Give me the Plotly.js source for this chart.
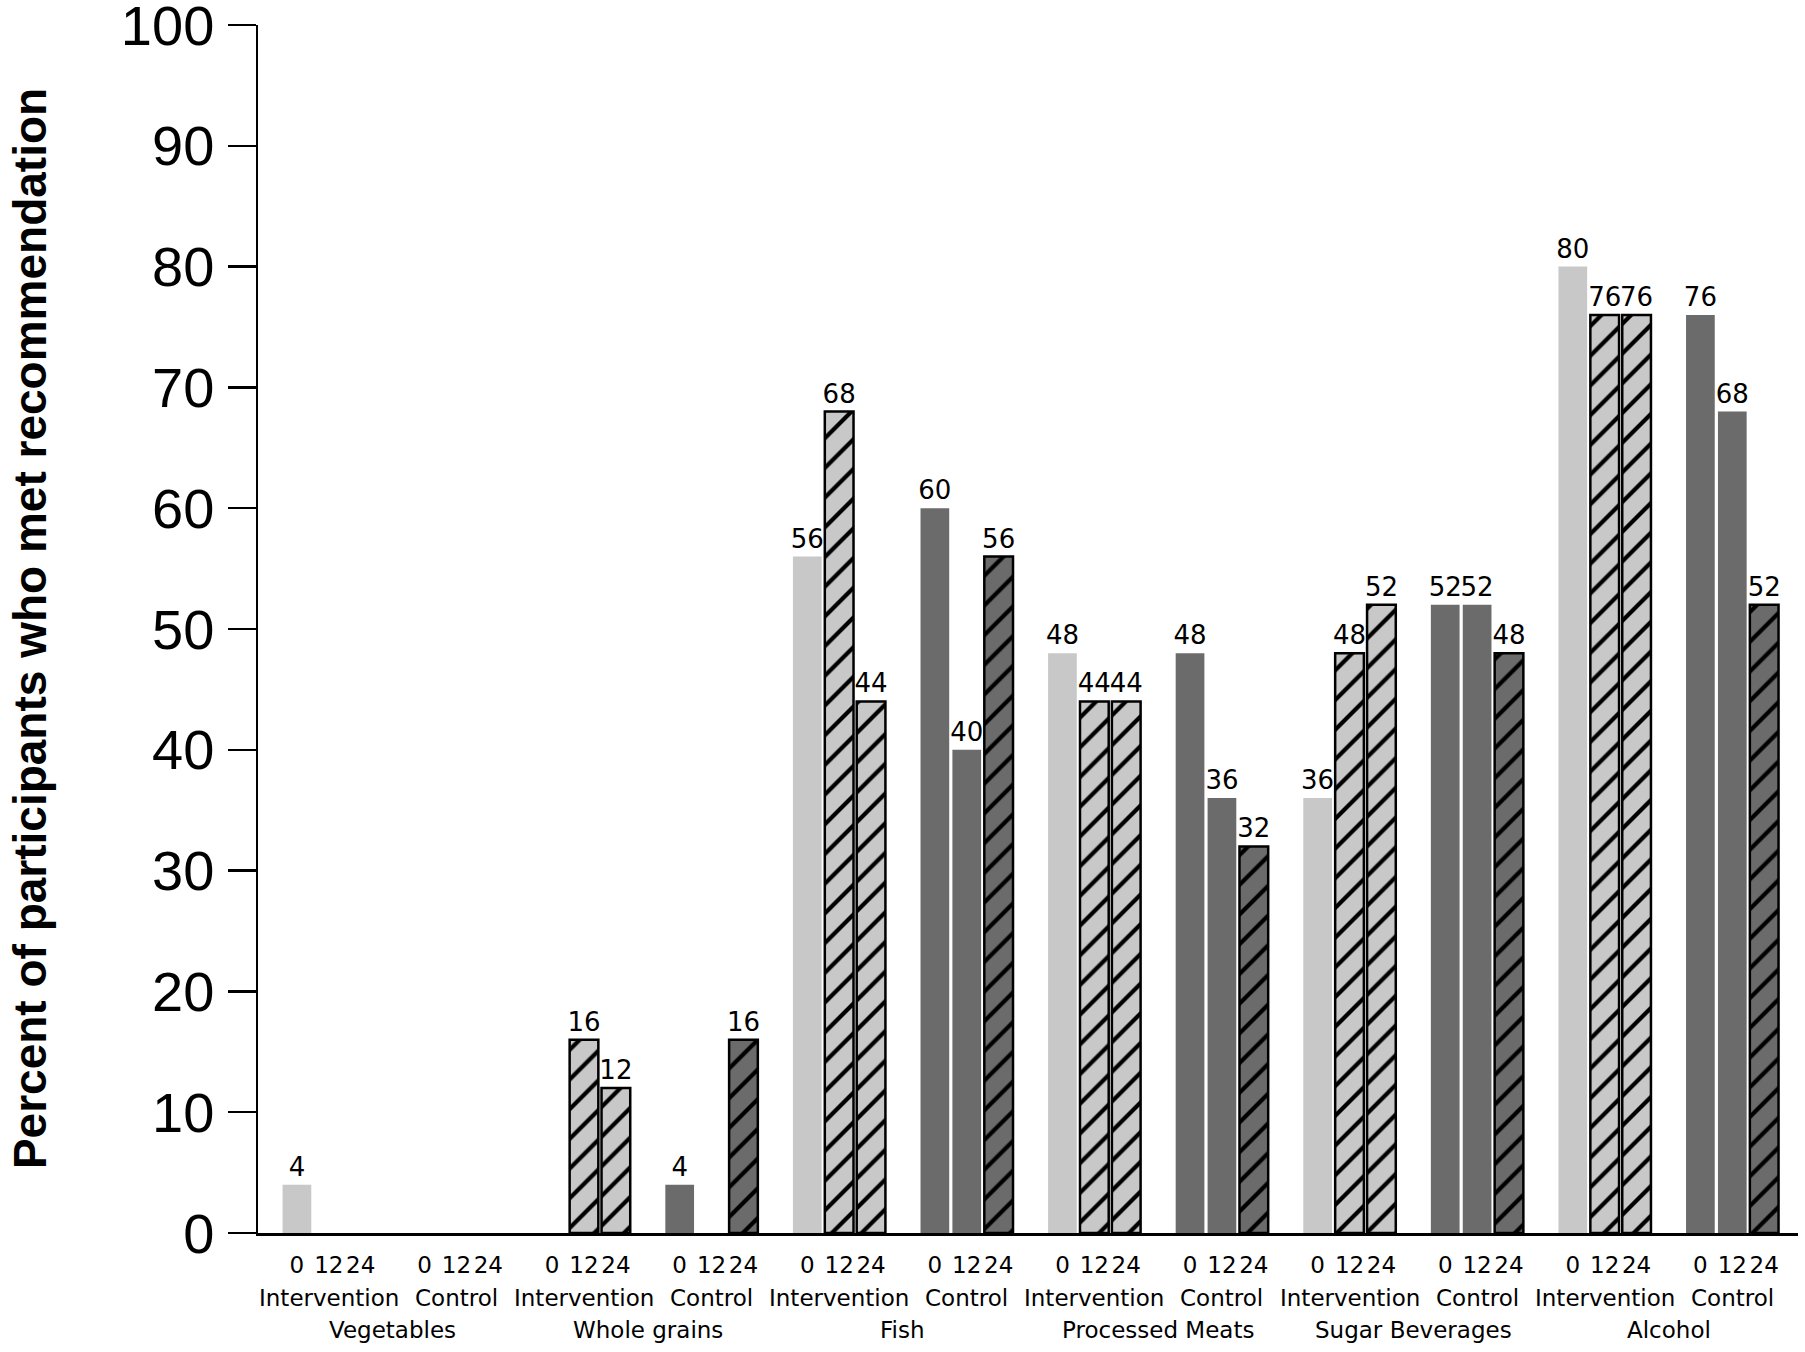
<!DOCTYPE html>
<html>
<head>
<meta charset="utf-8">
<script src="https://cdn.plot.ly/plotly-3.0.1.min.js"></script>
<style>html,body{margin:0;padding:0;background:#fff;}#chart{width:1805px;height:1352px;}</style>
</head>
<body>
<div id="chart"></div>
<script>
const categories = ['Vegetables', 'Whole grains', 'Fish', 'Processed Meats', 'Sugar Beverages', 'Alcohol'];
const groups = ['Intervention', 'Control'];
const timepoints = ['0', '12', '24'];
const intervention0  = [4, 0, 56, 48, 36, 80];
const intervention12 = [0, 16, 68, 44, 48, 76];
const intervention24 = [0, 12, 44, 44, 52, 76];
const control0  = [0, 4, 60, 48, 52, 76];
const control12 = [0, 0, 40, 36, 52, 68];
const control24 = [0, 16, 56, 32, 48, 52];
const yTitle = 'Percent of participants who met recommendation';

const LIGHT = '#c8c8c8', DARK = '#6b6b6b';
const SLOTS_PER_CAT = 8, SLOTS_PER_GROUP = 4;
const pos = (ci, gi, ti) => ci * SLOTS_PER_CAT + gi * SLOTS_PER_GROUP + ti;

const series = [
  {g: 0, t: 0, v: intervention0,  color: LIGHT, hatch: false},
  {g: 0, t: 1, v: intervention12, color: LIGHT, hatch: true},
  {g: 0, t: 2, v: intervention24, color: LIGHT, hatch: true},
  {g: 1, t: 0, v: control0,  color: DARK, hatch: false},
  {g: 1, t: 1, v: control12, color: DARK, hatch: false},
  {g: 1, t: 2, v: control24, color: DARK, hatch: true}
];

const traces = series.map(s => {
  const marker = {color: s.color};
  if (s.hatch) {
    marker.pattern = {shape: '/', fgcolor: '#000', fgopacity: 1, bgcolor: s.color, size: 21, solidity: 0.2, fillmode: 'overlay'};
    marker.line = {color: '#000', width: s.v.map(v => v > 0 ? 2.5 : 0)};
  } else {
    marker.line = {color: s.color, width: 0};
  }
  return {
    type: 'bar',
    name: groups[s.g] + ' ' + timepoints[s.t],
    x: categories.map((c, ci) => pos(ci, s.g, s.t)),
    y: s.v,
    width: 0.9,
    marker: marker,
    text: s.v.map(v => v > 0 ? String(v) : ''),
    textposition: 'outside',
    textfont: {family: 'DejaVu Sans', size: 26, color: '#000'},
    constraintext: 'none',
    cliponaxis: false,
    hoverinfo: 'x+y'
  };
});

const tickvals = [], ticktext = [];
categories.forEach((c, ci) => groups.forEach((g, gi) => timepoints.forEach((t, ti) => {
  tickvals.push(pos(ci, gi, ti)); ticktext.push(t);
})));

const annotations = [];
categories.forEach((c, ci) => {
  groups.forEach((g, gi) => {
    annotations.push({
      x: pos(ci, gi, 1), xref: 'x', y: 0, yref: 'paper',
      yanchor: 'middle', yshift: -65, showarrow: false, text: g,
      font: {family: 'DejaVu Sans', size: 23, color: '#000'}
    });
  });
  annotations.push({
    x: pos(ci, 0, 3), xref: 'x', y: 0, yref: 'paper',
    yanchor: 'middle', yshift: -97, showarrow: false, text: c,
    font: {family: 'DejaVu Sans', size: 23, color: '#000'}
  });
});
annotations.push({
  x: -0.148, xref: 'paper', y: 0.5, yref: 'paper', xanchor: 'center', yanchor: 'middle',
  textangle: -90, showarrow: false, text: yTitle,
  font: {family: 'Liberation Sans', size: 46, color: '#000', weight: 700}
});

const layout = {
  width: 1805, height: 1352,
  margin: {l: 258, r: 7, t: 25, b: 119},
  paper_bgcolor: '#fff', plot_bgcolor: '#fff',
  barmode: 'overlay',
  showlegend: false,
  xaxis: {
    range: [-1.22, 47.06], tickvals: tickvals, ticktext: ticktext, tickangle: 0,
    ticks: '', showline: true, linecolor: '#000', linewidth: 3,
    showgrid: false, zeroline: false, ticklabelstandoff: 9,
    tickfont: {family: 'DejaVu Sans', size: 23, color: '#000'}
  },
  yaxis: {
    range: [0, 100], dtick: 10, tick0: 0, ticks: 'outside', ticklen: 28, tickwidth: 2.3, tickcolor: '#000',
    showline: true, linecolor: '#000', linewidth: 2.5, showgrid: false, zeroline: false,
    ticklabeloverflow: 'allow',
    tickfont: {family: 'Liberation Sans', size: 56, color: '#000'}, ticklabelstandoff: 2
  },
  annotations: annotations
};

Plotly.newPlot('chart', traces, layout, {displayModeBar: false, staticPlot: true});
</script>
</body>
</html>
